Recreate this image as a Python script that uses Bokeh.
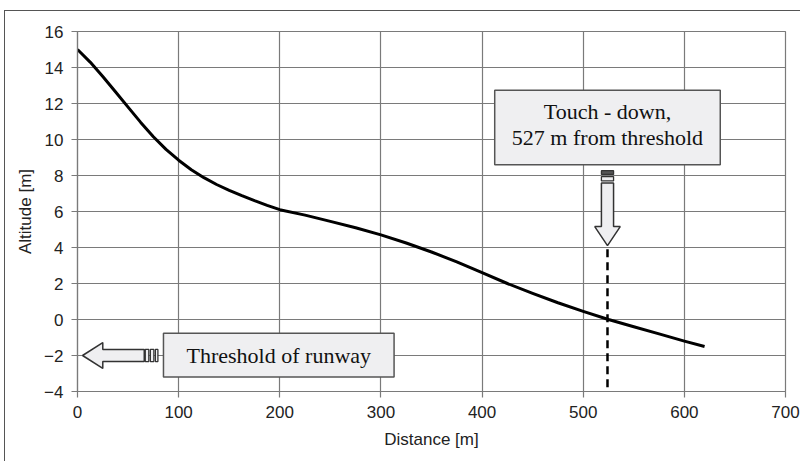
from bokeh.plotting import figure
from bokeh.models import Range1d, FixedTicker, BoxAnnotation, Label, Arrow
from bokeh.embed import file_html
from bokeh.resources import INLINE

# ---- data ----
distance_m = [0, 12.5, 25, 37.5, 50, 62.5, 75, 87.5, 100, 112.5, 125, 137.5, 150,
              162.5, 175, 187.5, 200, 225, 250, 275, 300,
              325, 350, 375, 400, 425, 450, 475, 500, 525, 550, 575, 600, 620]
altitude_m = [15.0, 14.3, 13.5, 12.65, 11.8, 10.95, 10.15, 9.45, 8.85, 8.32, 7.88, 7.5, 7.18,
              6.88, 6.6, 6.34, 6.1, 5.8, 5.45, 5.1, 4.7,
              4.25, 3.75, 3.2, 2.6, 2.0, 1.45, 0.93, 0.45, 0.0, -0.4, -0.8, -1.2, -1.5]
x_ticks = [0, 100, 200, 300, 400, 500, 600, 700]
y_ticks = [-4, -2, 0, 2, 4, 6, 8, 10, 12, 14, 16]
touchdown_x = 524
touchdown_lines = ["Touch - down,", "527 m from threshold"]
threshold_text = "Threshold of runway"
threshold_y = -2

GRID = "#7a7a7a"
DARK = "#333333"
BOXFILL = "#efeff1"
SERIF = "Liberation Serif"
SANS = "Liberation Sans"

# outer page frame: border at x=4 (left) and y=10 (top)
OFF_L, OFF_T, BW = 4, 10, 1.5

p = figure(width=802 - OFF_L - 2, height=463 - OFF_T - 2,
           output_backend="svg", toolbar_location=None,
           x_range=Range1d(0, 700), y_range=Range1d(-4, 16),
           min_border_left=78 - OFF_L - 2, min_border_right=16,
           min_border_top=32 - OFF_T - 2, min_border_bottom=71)
p.margin = (OFF_T, 0, 0, OFF_L)
p.styles = {"border-left": f"{BW}px solid #555555",
            "border-top": f"{BW}px solid #555555"}
p.background_fill_color = "white"
p.border_fill_color = "white"
p.outline_line_color = GRID
p.outline_line_width = 1.2

for ax in (p.xaxis[0], p.yaxis[0]):
    ax.axis_line_color = GRID
    ax.axis_line_width = 1.2
    ax.major_tick_line_color = GRID
    ax.major_tick_line_width = 1.2
    ax.major_tick_in = 0
    ax.major_tick_out = 6
    ax.minor_tick_line_color = None
    ax.major_label_text_font = SANS
    ax.major_label_text_font_size = "17px"
    ax.major_label_text_color = "#222222"
    ax.axis_label_text_font = SANS
    ax.axis_label_text_font_size = "17px"
    ax.axis_label_text_font_style = "normal"
    ax.axis_label_text_color = "#222222"

p.xaxis[0].ticker = FixedTicker(ticks=x_ticks)
p.yaxis[0].ticker = FixedTicker(ticks=y_ticks)
p.xaxis[0].axis_label = "Distance [m]"
p.yaxis[0].axis_label = "Altitude [m]"
p.xaxis[0].major_label_standoff = 8
p.xaxis[0].axis_label_standoff = 9
p.yaxis[0].major_label_standoff = 8
p.yaxis[0].axis_label_standoff = 6

for g in (p.xgrid[0], p.ygrid[0]):
    g.grid_line_color = GRID
    g.grid_line_width = 1.2

# curve
p.line(distance_m, altitude_m, line_color="black", line_width=3, line_join="round")

# touchdown dashed marker
p.add_layout(Arrow(end=None, x_start=touchdown_x, y_start=3.9,
                   x_end=touchdown_x, y_end=-4.65,
                   line_color="black", line_width=2.5, line_dash="8 5"))

# ---- threshold arrow (pointing left) ----
tip_x, head_len, head_half, shaft_half, shaft_end = 5, 20, 0.72, 0.34, 66
y0 = threshold_y
ax_pts = [tip_x, tip_x + head_len, tip_x + head_len, shaft_end, shaft_end,
          tip_x + head_len, tip_x + head_len]
ay_pts = [y0, y0 + head_half, y0 + shaft_half, y0 + shaft_half, y0 - shaft_half,
          y0 - shaft_half, y0 - head_half]
p.patch(ax_pts, ay_pts, fill_color=BOXFILL, line_color=DARK, line_width=1.5)
p.quad(left=[67, 72, 77], right=[70.5, 75.5, 79.5],
       bottom=[y0 - shaft_half] * 3, top=[y0 + shaft_half] * 3,
       fill_color=BOXFILL, line_color=DARK, line_width=1.3)

# threshold box
p.add_layout(BoxAnnotation(left=85, right=313, bottom=-3.2, top=-0.76,
                           fill_color=BOXFILL, fill_alpha=1,
                           line_color="#555555", line_width=1.5, line_alpha=1))
p.add_layout(Label(x=199, y=y0, text=threshold_text, text_align="center",
                   text_baseline="middle", text_font=SERIF,
                   text_font_size="22px", text_color="#111111"))

# ---- touchdown arrow (pointing down) ----
cx = touchdown_x
tip_y, head_top, head_hw, shaft_hw, shaft_top = 4.1, 5.16, 12.6, 6.0, 7.58
dx = [cx, cx - head_hw, cx - shaft_hw, cx - shaft_hw, cx + shaft_hw,
      cx + shaft_hw, cx + head_hw]
dy = [tip_y, head_top, head_top, shaft_top, shaft_top, head_top, head_top]
p.patch(dx, dy, fill_color=BOXFILL, line_color=DARK, line_width=1.5)
p.quad(left=[cx - shaft_hw] * 2, right=[cx + shaft_hw] * 2,
       bottom=[7.70, 8.06], top=[7.94, 8.27],
       fill_color=[BOXFILL, "#555555"], line_color=DARK, line_width=1.3)

# touchdown box
p.add_layout(BoxAnnotation(left=cx - 111.5, right=cx + 111.5, bottom=8.6, top=12.74,
                           fill_color=BOXFILL, fill_alpha=1,
                           line_color="#555555", line_width=1.5, line_alpha=1))
for txt, ty in zip(touchdown_lines, [11.55, 10.1]):
    p.add_layout(Label(x=cx, y=ty, text=txt, text_align="center",
                       text_baseline="middle", text_font=SERIF,
                       text_font_size="22px", text_color="#111111"))

open("out.html", "w").write(file_html(p, INLINE))
